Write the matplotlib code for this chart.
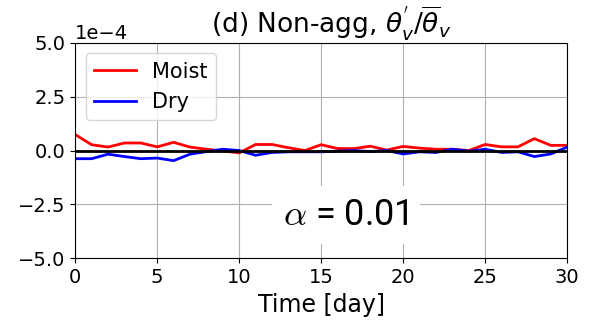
import numpy as np
import matplotlib.pyplot as plt

days = np.arange(0, 31)
moist = [0.74, 0.27, 0.16, 0.35, 0.35, 0.17, 0.38, 0.16, 0.06, -0.02,
         -0.11, 0.28, 0.28, 0.13, 0.0, 0.27, 0.09, 0.09, 0.20, 0.02,
         0.19, 0.11, 0.06, 0.06, 0.0, 0.28, 0.17, 0.17, 0.55, 0.24, 0.24]
dry = [-0.38, -0.38, -0.17, -0.28, -0.38, -0.35, -0.47, -0.17, -0.05, 0.06,
       0.0, -0.22, -0.09, -0.06, -0.06, -0.06, -0.03, 0.0, -0.05, 0.0,
       -0.16, -0.06, -0.09, 0.06, -0.03, 0.06, -0.09, -0.06, -0.28, -0.16, 0.16]
moist = np.array(moist) * 1e-4
dry = np.array(dry) * 1e-4

fig, ax = plt.subplots(figsize=(5.97, 3.29), dpi=100)
ax.plot(days, moist, color='red', lw=2, label='Moist')
ax.plot(days, dry, color='blue', lw=2, label='Dry')
ax.axhline(0, color='black', lw=2)

ax.set_xlim(0, 30)
ax.set_ylim(-5e-4, 5e-4)
ax.set_yticks([-5e-4, -2.5e-4, 0, 2.5e-4, 5e-4])
ax.ticklabel_format(axis='y', style='sci', scilimits=(0, 0))
ax.yaxis.get_offset_text().set_fontsize(14)
ax.tick_params(labelsize=14)
ax.grid(True)
ax.set_xlabel('Time [day]', fontsize=17)
ax.set_title(r"(d) Non-agg, $\theta_v^{'}/\overline{\theta}_v$", fontsize=19, x=0.52)
ax.legend(loc='upper left', fontsize=15)

# alpha label on a white patch
ax.text(0.55, 0.2, r'$\alpha$ = 0.01', transform=ax.transAxes, ha='center', va='center',
        fontsize=26, family='Roboto', math_fontfamily='cm',
        bbox=dict(facecolor='white', edgecolor='none', pad=8))

fig.subplots_adjust(left=0.126, right=0.95, top=0.87, bottom=0.215)
fig.savefig('out.png')
